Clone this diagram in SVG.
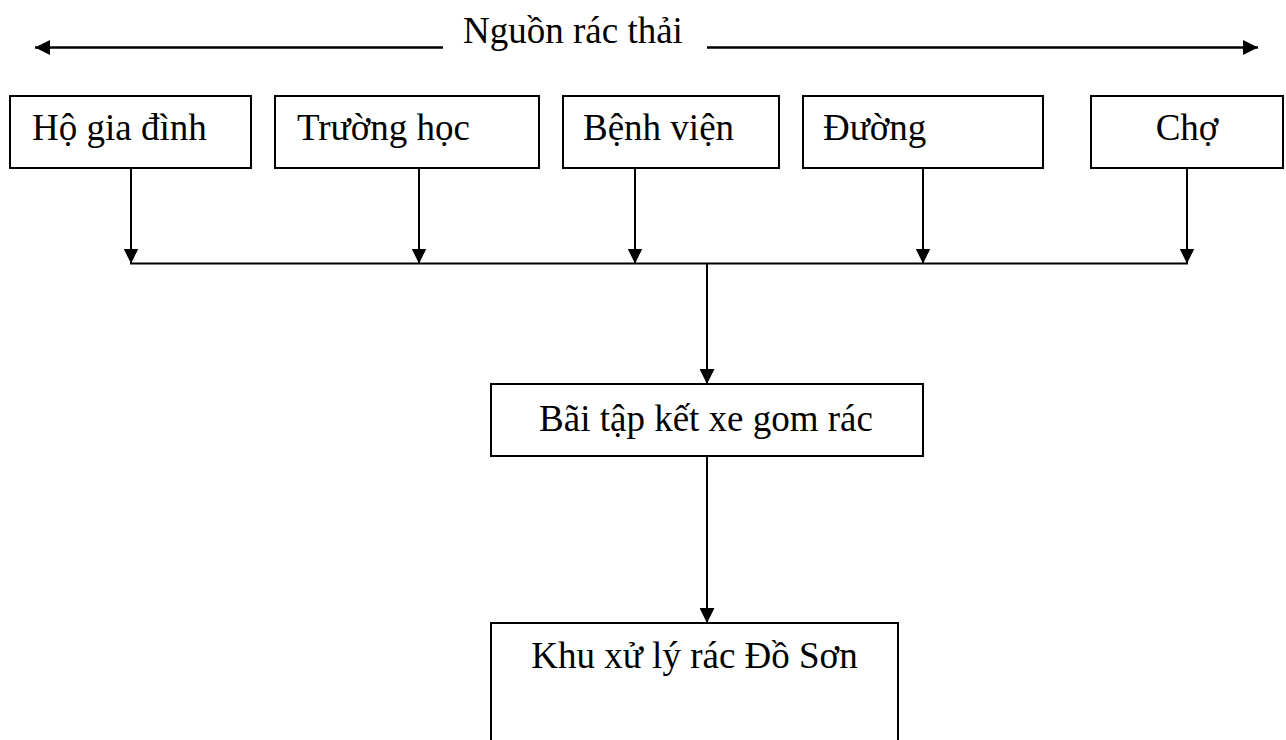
<svg xmlns="http://www.w3.org/2000/svg" width="1286" height="740" viewBox="0 0 1286 740">
  <style>
    .box { fill: #ffffff; stroke: #000000; stroke-width: 2; }
    .lbl { font-family: "Liberation Serif", "Times New Roman", serif; font-size: 37px; fill: #000000; }
    .mid { text-anchor: middle; }
    .conn { stroke: #000000; stroke-width: 2; fill: none; }
    .thick { stroke-width: 2.5; }
  </style>
  <defs>
    <marker id="arrow" viewBox="0 0 15 15" refX="15" refY="7.5" markerWidth="15" markerHeight="15" markerUnits="userSpaceOnUse" orient="auto">
      <path d="M0,0 L15,7.5 L0,15 z" fill="#000000"/>
    </marker>
  </defs>
  <rect width="1286" height="740" fill="#ffffff"/>

  <g id="title">
    <text class="lbl" x="463" y="43">Nguồn rác thải</text>
  </g>

  <g id="connectors">
    <line class="conn thick" x1="443" y1="47.5" x2="35" y2="47.5" marker-end="url(#arrow)"/>
    <line class="conn thick" x1="707" y1="47.5" x2="1258" y2="47.5" marker-end="url(#arrow)"/>
    <line class="conn" x1="131" y1="168" x2="131" y2="263.5" marker-end="url(#arrow)"/>
    <line class="conn" x1="419" y1="168" x2="419" y2="263.5" marker-end="url(#arrow)"/>
    <line class="conn" x1="635" y1="168" x2="635" y2="263.5" marker-end="url(#arrow)"/>
    <line class="conn" x1="923" y1="168" x2="923" y2="263.5" marker-end="url(#arrow)"/>
    <line class="conn" x1="1187" y1="168" x2="1187" y2="263.5" marker-end="url(#arrow)"/>
    <line class="conn" x1="130" y1="263.5" x2="1188" y2="263.5"/>
    <line class="conn" x1="707" y1="263.5" x2="707" y2="384" marker-end="url(#arrow)"/>
    <line class="conn" x1="707" y1="456" x2="707" y2="623" marker-end="url(#arrow)"/>
  </g>

  <g id="ho-gia-dinh">
    <rect class="box" x="10" y="96" width="241" height="72"/>
    <text class="lbl" x="32" y="140">Hộ gia đình</text>
  </g>
  <g id="truong-hoc">
    <rect class="box" x="275" y="96" width="264" height="72"/>
    <text class="lbl" x="297" y="140">Trường học</text>
  </g>
  <g id="benh-vien">
    <rect class="box" x="563" y="96" width="216" height="72"/>
    <text class="lbl" x="583" y="140">Bệnh viện</text>
  </g>
  <g id="duong">
    <rect class="box" x="803" y="96" width="240" height="72"/>
    <text class="lbl" x="823" y="140">Đường</text>
  </g>
  <g id="cho">
    <rect class="box" x="1091" y="96" width="192" height="72"/>
    <text class="lbl mid" x="1187" y="140">Chợ</text>
  </g>
  <g id="bai-tap-ket">
    <rect class="box" x="491" y="384" width="432" height="72"/>
    <text class="lbl mid" x="706" y="431">Bãi tập kết xe gom rác</text>
  </g>
  <g id="khu-xu-ly">
    <rect class="box" x="491" y="623" width="407" height="140"/>
    <text class="lbl mid" x="694.5" y="668">Khu xử lý rác Đồ Sơn</text>
  </g>
</svg>
